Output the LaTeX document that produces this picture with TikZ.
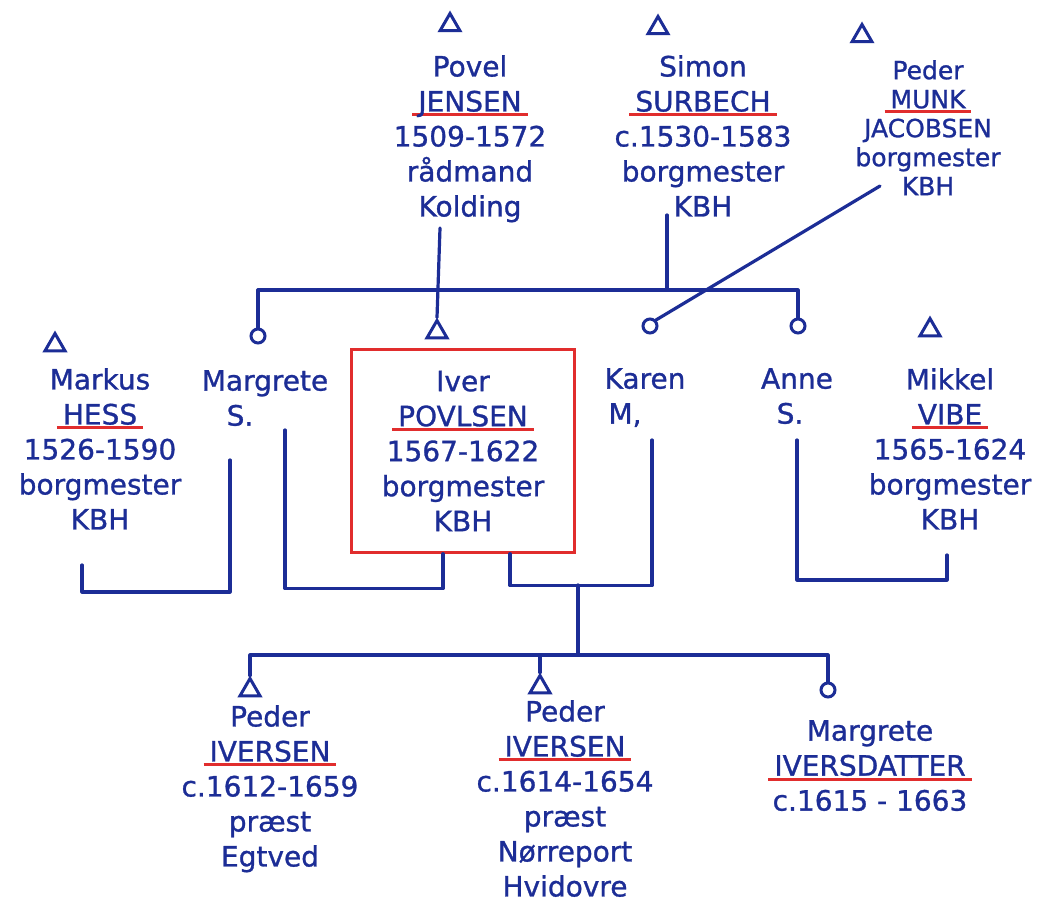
\documentclass[tikz,border=0pt]{standalone}
\usepackage{fontspec}
\setmainfont{DejaVu Sans}[FakeBold=1]
\usetikzlibrary{shapes.geometric}
\definecolor{inkc}{RGB}{28,45,150}
\definecolor{ulred}{RGB}{225,45,45}
\newcommand\redul[1]{\setbox0\hbox{#1}\leavevmode\rlap{\kern-6pt\textcolor{ulred}{\rule[-5pt]{\dimexpr\wd0+12pt\relax}{3pt}}}\box0}
\begin{document}
\begin{tikzpicture}[x=1pt,y=-1pt,
  ink/.style={draw=inkc, line width=3.2pt, line cap=round, line join=round},
  person/.style={text=inkc, align=center, inner sep=0pt, anchor=north,
    font=\fontsize{28}{35}\selectfont},
  tri/.style={regular polygon, regular polygon sides=3, draw=inkc, line width=3pt,
    minimum size=23pt, inner sep=0pt},
  circ/.style={circle, draw=inkc, line width=3pt, minimum size=14pt, inner sep=0pt}]
\useasboundingbox (0,0) rectangle (1051,909);
\fill[white] (0,0) rectangle (1051,909);

% top generation
\node[tri] (tPovel) at (450,25) {};
\node[tri] (tSimon) at (658,28) {};
\node[tri] (tMunk) at (862,36) {};
\node[person] (pPovel) at (470,55) {Povel\\\redul{JENSEN}\\1509-1572\\rådmand\\Kolding};
\node[person] (pSimon) at (703,55) {Simon\\\redul{SURBECH}\\c.1530-1583\\borgmester\\KBH};
\node[person, font=\fontsize{25}{29}\selectfont] (pMunk) at (928,60) {Peder\\\redul{MUNK}\\JACOBSEN\\borgmester\\KBH};

% second generation
\node[tri] (tMarkus) at (55,345) {};
\node[circ] (cMarg) at (258,336) {};
\node[tri] (tIver) at (437,332) {};
\node[circ] (cKaren) at (650,326) {};
\node[circ] (cAnne) at (798,326) {};
\node[tri] (tMikkel) at (930,330) {};
\node[person] (pMarkus) at (100,368) {Markus\\\redul{HESS}\\1526-1590\\borgmester\\KBH};
\node[person] (pMarg) at (265,370) {Margrete\\S.\hspace*{50pt}};
\node[person, anchor=center, draw=ulred, line width=2.4pt, minimum width=223pt, minimum height=203pt] (pIver) at (463,451) {Iver\\\redul{POVLSEN}\\1567-1622\\borgmester\\KBH};
\node[person] (pKaren) at (645,368) {Karen\\M,\hspace*{40pt}};
\node[person] (pAnne) at (797,368) {Anne\\S.\hspace*{14pt}};
\node[person] (pMikkel) at (950,368) {Mikkel\\\redul{VIBE}\\1565-1624\\borgmester\\KBH};

% third generation
\node[tri] (tP1) at (250,690) {};
\node[tri] (tP2) at (540,687) {};
\node[circ] (cMI) at (828,690) {};
\node[person] (pP1) at (270,705) {Peder\\\redul{IVERSEN}\\c.1612-1659\\præst\\Egtved};
\node[person] (pP2) at (565,700) {Peder\\\redul{IVERSEN}\\c.1614-1654\\præst\\Nørreport\\Hvidovre};
\node[person] (pMI) at (870,720) {Margrete\\\redul{IVERSDATTER}\\c.1615 - 1663};

% coordinates
\coordinate (bR) at (798,290);
\coordinate (sTop) at (667,215);
\coordinate (sJ) at (667,290);
\coordinate (pvTop) at (440,228);
\coordinate (mkEnd) at (880,186);
\coordinate (mkA) at (82,565);
\coordinate (mgA) at (230,460);
\coordinate (mgB) at (285,430);
\coordinate (krB) at (652,440);
\coordinate (anB) at (797,440);
\coordinate (miB) at (947,555);
\coordinate (cTop) at (578,585);
\coordinate (cBar) at (578,655);

% connectors, first generation
\draw[ink] (sTop) -- (sJ);
\draw[ink] (cMarg.north) |- (bR) -- (cAnne.north);
\draw[ink] (pvTop) -- (tIver.north);
\draw[ink] (mkEnd) -- (cKaren.north east);

% marriages
\draw[ink] (mkA) -- ++(0,27) -| (mgA);
\draw[ink] ([xshift=-20pt]pIver.south) -- ++(0,35) -| (mgB);
\draw[ink] ([xshift=47pt]pIver.south) -- ++(0,32) -| (krB);
\draw[ink] (anB) -- ++(0,140) -| (miB);

% children
\draw[ink] (cTop) -- (cBar);
\draw[ink] (tP1.north) -- (tP1.north |- cBar) -- (cMI.north |- cBar) -- (cMI.north);
\draw[ink] (tP2.north) -- (tP2.north |- cBar);
\end{tikzpicture}
\end{document}
